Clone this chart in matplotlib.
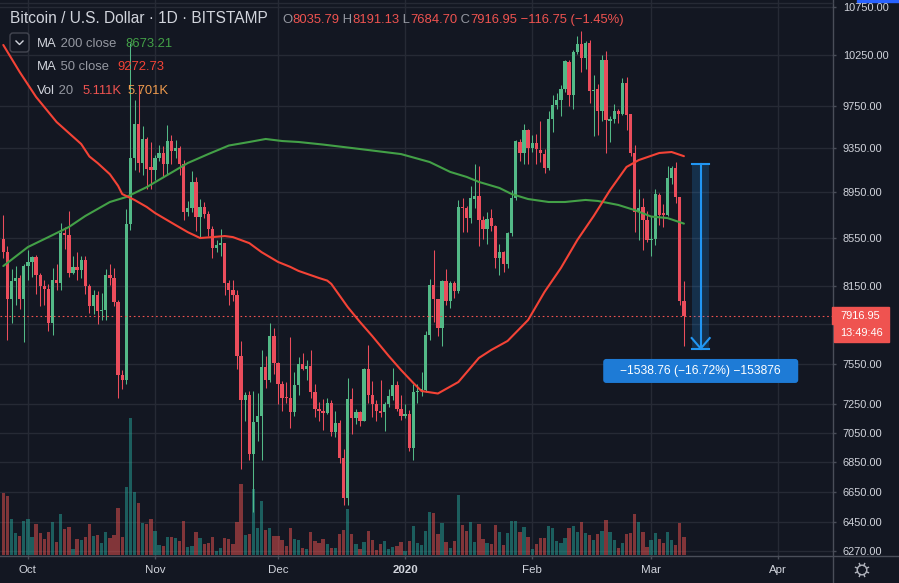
import numpy as np
import pandas as pd
import matplotlib
matplotlib.use("Agg")
import matplotlib.pyplot as plt
from matplotlib.patches import Rectangle, FancyBboxPatch, Circle
from matplotlib.lines import Line2D
from matplotlib.transforms import IdentityTransform
import matplotlib.ticker as mticker

plt.rcParams['font.family'] = ['Liberation Sans', 'DejaVu Sans']

# ---------------- data (BTC/USD daily, Bitstamp) ----------------
start_date = "2019-09-25"

opens = [8540, 8432, 8050, 8190, 8215, 8045,
         8320, 8350, 8390, 8240, 8150, 8130, 7860, 8200, 8180, 8590, 8575, 8260, 8310, 8285, 8365, 8155,
         7990, 8080, 7955, 7960, 8240, 8215, 8025, 7465, 7425, 8670, 9256, 9570, 9210, 9430, 9170,
         9150, 9255, 9300, 9200, 9415, 9320, 9350, 9200, 8770, 8810, 9035, 8730, 8815, 8760, 8630,
         8466, 8490, 8505, 8178, 8120, 8080, 7607, 7282, 7320, 6903, 7125, 7165, 7524, 7430, 7758,
         7555, 7400, 7300, 7295, 7196, 7391, 7546, 7510, 7530, 7340, 7215, 7205, 7190, 7260, 7055,
         7120, 6875, 6608, 7290, 7150, 7195, 7135, 7509, 7320, 7255, 7200, 7195, 7250, 7310, 7390, 7220,
         7165, 7185, 6943, 7340, 7350, 7355, 7766, 8160, 8050, 7820, 8190, 8030, 8180, 8110, 8820,
         8805, 8720, 8890, 8910, 8700, 8630, 8720, 8650, 8380, 8430, 8335, 8596, 8900, 9400, 9300, 9515,
         9345, 9390, 9330, 9290, 9165, 9620, 9755, 9805, 9910, 10180, 9850, 10281, 10363, 10225, 10370,
         9890, 9910, 9700, 10200, 9600, 9620, 9700, 9665, 9970, 9665, 9300, 8774, 8820, 8700,
         8530, 8540, 8920, 8760, 8750, 9075, 9165, 8905, 8035.79]

highs = [8750, 8480, 8290, 8320, 8240, 8330,
         8450, 8400, 8410, 8260, 8200, 8170, 8300, 8330, 8680, 8640, 8780, 8400, 8430, 8400, 8400, 8170,
         8120, 8115, 8100, 8290, 8330, 8300, 8040, 7500, 8800, 10370, 9800, 9950, 9550, 9450, 9400,
         9280, 9380, 9370, 9560, 9470, 9420, 9370, 9240, 8870, 9140, 9080, 8890, 8860, 8780, 8650,
         8530, 8630, 8510, 8200, 8200, 8120, 7720, 7340, 7350, 7350, 7330, 7650, 7610, 7860, 7820,
         7560, 7420, 7410, 7750, 7490, 7600, 7630, 7580, 7650, 7400, 7270, 7290, 7300, 7280, 7200,
         7140, 6940, 7440, 7370, 7220, 7200, 7520, 7690, 7420, 7280, 7430, 7270, 7360, 7520, 7420, 7320,
         7250, 7210, 7400, 7400, 7490, 7800, 8210, 8450, 8050, 8200, 8290, 8190, 8190, 8880,
         8900, 8830, 9000, 9200, 9180, 8740, 8770, 8800, 8660, 8500, 8440, 8600, 8970, 9420, 9430, 9570, 9530,
         9470, 9480, 9600, 9340, 9700, 9850, 9870, 9950, 10200, 10200, 10300, 10450, 10500, 10390,
         10400, 10050, 9960, 10250, 10290, 9650, 9760, 9720, 10020, 10030, 9670, 9380, 8980, 8900, 8780,
         8740, 8980, 8940, 8840, 9180, 9180, 9220, 8905, 8191.13]

lows = [8380, 7730, 7860, 8000, 7970, 7710,
        8200, 8230, 8090, 7990, 8000, 7800, 7770, 8120, 8120, 8460, 8230, 8250, 8200, 8220, 8090, 7940,
        7930, 7850, 7880, 7880, 8160, 7990, 7300, 7360, 7400, 8620, 9150, 9130, 9100, 8980, 8980,
        9060, 9230, 9080, 9100, 9200, 9260, 9100, 8700, 8740, 8770, 8610, 8560, 8720, 8570, 8380,
        8430, 8400, 8080, 8000, 8030, 7510, 6800, 7130, 6860, 6520, 6990, 6860, 7370, 7410, 7470,
        7250, 7200, 7260, 7080, 7170, 7320, 7500, 7430, 7300, 7160, 7130, 7070, 7180, 7030, 7020,
        6840, 6560, 6560, 7040, 7110, 7100, 7130, 7260, 7160, 7130, 7160, 7060, 7230, 7280, 7200, 7140,
        7150, 6920, 6860, 7260, 7310, 7340, 7730, 7870, 7760, 7680, 8000, 7980, 8060, 8100,
        8600, 8600, 8680, 8810, 8480, 8540, 8500, 8610, 8300, 8240, 8270, 8300, 8570, 8880, 9230, 9200, 9200,
        9310, 9200, 9220, 9120, 9150, 9500, 9720, 9650, 9880, 9750, 9720, 10260, 10080, 10110,
        9770, 9460, 9470, 9600, 9300, 9400, 9580, 9580, 9660, 9520, 9270, 8600, 8530, 8450, 8520,
        8400, 8490, 8660, 8640, 8740, 9020, 8850, 8000, 7684.70]

closes = [8432, 8050, 8190, 8215, 8045, 8320,
          8350, 8390, 8240, 8150, 8130, 7860, 8200, 8180, 8590, 8575, 8260, 8310, 8285, 8365, 8155, 7990,
          8080, 7955, 7960, 8240, 8215, 8025, 7465, 7425, 8670, 9256, 9570, 9210, 9430, 9155, 9150,
          9255, 9300, 9200, 9415, 9320, 9350, 9200, 8770, 8810, 9035, 8730, 8815, 8760, 8630, 8466,
          8490, 8505, 8178, 8120, 8080, 7607, 7282, 7320, 6903, 7125, 7165, 7524, 7430, 7758, 7555,
          7400, 7300, 7295, 7196, 7391, 7546, 7510, 7530, 7340, 7215, 7200, 7190, 7260, 7055, 7120,
          6875, 6608, 7290, 7150, 7195, 7135, 7509, 7320, 7255, 7200, 7190, 7250, 7310, 7390, 7220, 7165,
          7185, 6943, 7340, 7350, 7355, 7766, 8160, 8050, 7820, 8190, 8030, 8180, 8110, 8820,
          8805, 8720, 8900, 8910, 8700, 8630, 8713, 8650, 8380, 8430, 8335, 8596, 8900, 9410, 9300, 9515, 9345,
          9390, 9340, 9300, 9165, 9620, 9755, 9805, 9910, 10190, 9850, 10281, 10363, 10225, 10370,
          9890, 9900, 9700, 10200, 9610, 9620, 9700, 9665, 9970, 9660, 9300, 8774, 8810, 8700, 8530,
          8540, 8932, 8750, 8750, 9075, 9165, 8905, 8035, 7916.95]

# volume in thousands of BTC
volumes_k = [17.6, 16.8, 10.2, 6.2, 5.4, 9.7,
             10.2, 5.1, 8.8, 6.2, 4.5, 6.5, 9.4, 3.7, 11.6, 7.4, 8.0, 1.7, 4.5, 4.3, 5.1, 8.8,
             5.4, 5.7, 3.4, 6.5, 4.8, 5.7, 13.3, 5.1, 19.3, 38.9, 17.9, 14.8, 9.1, 8.8, 10.2,
             6.8, 2.8, 2.6, 5.1, 5.1, 4.8, 4.0, 9.7, 2.3, 2.6, 6.5, 4.8, 3.1, 3.4, 5.1,
             1.1, 2.0, 4.8, 4.5, 3.1, 9.4, 20.2, 5.7, 6.0, 18.7, 7.7, 15.3, 7.1, 7.7, 5.4,
             5.4, 4.3, 2.6, 7.7, 4.5, 4.3, 2.0, 1.7, 6.5, 4.0, 3.4, 4.5, 3.1, 2.0, 2.0,
             6.0, 7.1, 13.1, 6.0, 3.1, 1.7, 3.7, 6.8, 4.3, 1.4, 3.1, 4.0, 1.7, 2.3, 2.6, 3.7,
             1.1, 4.0, 8.2, 3.4, 2.8, 6.8, 12.2, 11.9, 6.0, 9.1, 3.7, 2.0, 4.0, 17.0,
             8.5, 6.8, 9.4, 3.7, 8.8, 4.5, 3.4, 3.1, 8.5, 6.5, 2.8, 6.2, 9.7, 9.7, 6.5, 8.0, 5.1,
             1.7, 3.1, 4.8, 4.8, 8.2, 7.7, 4.0, 3.4, 4.8, 7.7, 8.2, 6.5, 9.4, 6.2,
             5.7, 4.3, 6.0, 6.8, 9.9, 6.5, 4.3, 2.0, 3.4, 6.0, 6.2, 11.6, 9.4, 6.5, 2.3,
             4.3, 6.2, 4.5, 3.4, 6.5, 4.3, 2.8, 9.1, 5.111]

# moving averages (day index from start_date, value)
ma200_day = [0, 6, 11, 16, 20, 26, 30, 35, 40, 45, 50, 55, 60, 64, 68, 72, 78, 85, 97, 104, 109, 113,
             116, 121, 124, 128, 133, 137, 142, 145, 150, 154, 158, 162, 166]
ma200_val = [8316, 8474, 8558, 8644, 8739, 8861, 8905, 8993, 9101, 9210, 9292, 9371, 9404, 9432, 9413,
             9404, 9380, 9348, 9292, 9219, 9129, 9084, 9039, 8985, 8931, 8887, 8861, 8861, 8879, 8870,
             8835, 8790, 8734, 8721, 8673.21]

ma50_day = [0, 4, 8, 13, 19, 21, 23, 26, 28, 29, 32, 35, 37, 42, 45, 48, 51, 54, 56, 60, 63, 67, 70,
            72, 77, 79, 80, 84, 87, 90, 94, 97, 100, 102, 106, 111, 116, 119, 123, 128, 132, 136, 140,
            144, 148, 152, 155, 160, 163, 166]
ma50_val = [10353, 10079, 9833, 9592, 9385, 9270, 9210, 9108, 9004, 8931, 8879, 8817, 8765, 8661, 8600,
            8550, 8558, 8567, 8558, 8507, 8431, 8350, 8309, 8276, 8218, 8197, 8170, 7985, 7867, 7758,
            7607, 7502, 7406, 7347, 7329, 7413, 7592, 7652, 7721, 7883, 8105, 8300, 8533, 8739, 8967,
            9174, 9237, 9302, 9311, 9272.73]

price_ticks = [10750, 10250, 9750, 9350, 8950, 8550, 8150, 7850, 7550, 7250, 7050, 6850, 6650, 6450, 6270]
month_starts = ["2019-10-01", "2019-11-01", "2019-12-01", "2020-01-01", "2020-02-01", "2020-03-01", "2020-04-01"]
month_labels = ["Oct", "Nov", "Dec", "2020", "Feb", "Mar", "Apr"]

ohlc_change = -116.75
ohlc_change_pct = -1.45
ma200_last = 8673.21
ma50_last = 9272.73
vol_last_k = 5.111
vol_ma_k = 5.701
countdown = "13:49:46"

measure_top = 9201.71
measure_change = -1538.76
measure_pct = -16.72
measure_ticks = -153876

# ---------------- style ----------------
BG = '#131722'
GRID = '#262A35'
UP = '#53B987'
DOWN = '#EB4D5C'
VOL_UP = '#26A69A'
VOL_DOWN = '#EF5350'
TXT = '#D1D4DC'
TXT_DIM = '#9598A1'
AXIS_LINE = '#4A4E59'
MA200_C = '#43A047'
MA50_C = '#F44336'
VALUE_RED = '#EF5350'
ORANGE = '#EE9A4D'
BLUE = '#2196F3'

W, H = 899, 583
fig = plt.figure(figsize=(W / 100, H / 100), dpi=100)
fig.patch.set_facecolor(BG)

def fp(px):  # px -> points
    return px * 0.72

n = min(len(opens), len(highs), len(lows), len(closes), len(volumes_k))
o = np.array(opens[:n], float)
h = np.array(highs[:n], float)
l = np.array(lows[:n], float)
c = np.array(closes[:n], float)
v = np.array(volumes_k[:n], float)
days = np.arange(n)
t0 = pd.Timestamp(start_date)
month_pos = [(pd.Timestamp(m) - t0).days for m in month_starts]

rect = [0, 28 / H, 832 / W, 555 / H]
XLIM = (-0.805, 202.12)
YLIM = (6245, 10825)

ax_grid = fig.add_axes(rect)
ax_vol = fig.add_axes(rect)
ax = fig.add_axes(rect)
ax_grid.set_zorder(0); ax_vol.set_zorder(1); ax.set_zorder(2)
ax_grid.set_facecolor(BG)
ax_vol.patch.set_visible(False)
ax.patch.set_visible(False)

for a in (ax_grid, ax):
    a.set_yscale('log')
    a.set_ylim(*YLIM)
    a.set_xlim(*XLIM)
    a.yaxis.set_minor_locator(mticker.NullLocator())
    a.yaxis.set_minor_formatter(mticker.NullFormatter())
ax_vol.set_xlim(*XLIM)

# grid
ax_grid.set_xticks(month_pos)
ax_grid.set_yticks(price_ticks)
ax_grid.grid(True, color=GRID, lw=1.0)
ax_grid.tick_params(length=0, labelleft=False, labelbottom=False)
for s in ax_grid.spines.values():
    s.set_visible(False)

# volume
vcols = [VOL_UP if cc >= oo else VOL_DOWN for oo, cc in zip(o, c)]
ax_vol.bar(days, v, width=0.8, color=vcols, alpha=0.5, linewidth=0)
ax_vol.set_ylim(0, 555 / 3.52)
ax_vol.axis('off')

# candles
cols = [UP if cc >= oo else DOWN for oo, cc in zip(o, c)]
lo_b = np.minimum(o, c)
hi_b = np.maximum(np.maximum(o, c), lo_b * 1.0012)
ax.vlines(days, l, h, colors=cols, lw=0.75, zorder=3)
ax.bar(days, hi_b - lo_b, bottom=lo_b, width=0.8, color=cols, linewidth=0, zorder=4)

# moving averages
ax.plot(ma200_day, ma200_val, color=MA200_C, lw=1.5, zorder=5, solid_capstyle='round')
ax.plot(ma50_day, ma50_val, color=MA50_C, lw=1.5, zorder=5, solid_capstyle='round')

# last price dotted line
ax.axhline(c[-1], color=VALUE_RED, lw=0.8, linestyle=(0, (1.5, 2.5)), zorder=6)

ax.set_xlim(*XLIM); ax.set_ylim(*YLIM)

# axes ticks
ax.yaxis.tick_right()
ax.set_yticks(price_ticks)
ax.set_yticklabels(['' if p == 7850 else f"{p:.2f}" for p in price_ticks])
ax.tick_params(axis='y', which='major', length=3, width=1, color=AXIS_LINE, pad=4.8,
               labelsize=fp(11), labelcolor=TXT)
ax.set_xticks(month_pos)
ax.set_xticklabels(month_labels)
ax.tick_params(axis='x', which='major', length=3, width=1, color=AXIS_LINE, pad=4.3,
               labelsize=fp(11.5), labelcolor=TXT)
for lab in ax.get_xticklabels():
    if lab.get_text() == '2020':
        lab.set_fontweight('bold')
for s in ax.spines.values():
    s.set_visible(False)

# separator lines
fig.add_artist(Line2D([832.5 / W, 832.5 / W], [0, 1], color=AXIS_LINE, lw=1, transform=fig.transFigure))
fig.add_artist(Line2D([0, 1], [1 - 555.5 / H] * 2, color=AXIS_LINE, lw=1, transform=fig.transFigure))
fig.add_artist(Line2D([0, 832 / W], [1 - 2.5 / H] * 2, color=GRID, lw=1, transform=fig.transFigure))
fig.add_artist(Rectangle((857, H - 2), 42, 2, color='#2962FF', transform=IdentityTransform()))

# last price labels on axis
yd = ax.transData.transform((0, c[-1]))[1]
fig.add_artist(Rectangle((832, yd - 8.5), 57, 17, color=VALUE_RED, transform=IdentityTransform(), zorder=10))
fig.add_artist(Rectangle((834, yd - 26.5), 55, 18, color=VALUE_RED, transform=IdentityTransform(), zorder=10))
fig.text(860.5, yd, f"{c[-1]:.2f}", color='white', fontsize=fp(11), ha='center', va='center',
         transform=IdentityTransform(), zorder=11)
fig.text(861.5, yd - 17.5, countdown, color='white', fontsize=fp(11), ha='center', va='center',
         transform=IdentityTransform(), zorder=11)

# gear icon bottom right
gx, gy = 862, H - 570
fig.add_artist(Circle((gx, gy), 4.8, fill=False, ec='#B2B5BE', lw=1, transform=IdentityTransform()))
for ang in np.arange(0, 360, 45):
    a_ = np.deg2rad(ang + 22.5)
    fig.add_artist(Line2D([gx + 4.8 * np.cos(a_), gx + 7 * np.cos(a_)],
                          [gy + 4.8 * np.sin(a_), gy + 7 * np.sin(a_)],
                          color='#B2B5BE', lw=1, transform=IdentityTransform()))

# measurement tool
m_left, m_mid, m_right = 168.0, 170.1, 172.2
m_bot = measure_top + measure_change
ax.add_patch(Rectangle((m_left, m_bot), m_right - m_left, measure_top - m_bot,
                       color=BLUE, alpha=0.2, linewidth=0, zorder=6))
ax.plot([m_mid, m_mid], [measure_top, m_bot], color=BLUE, lw=1.5, zorder=7)
ax.plot([m_left, m_right], [measure_top, measure_top], color=BLUE, lw=1.5, zorder=7)
ax.plot([m_left, m_right], [m_bot, m_bot], color=BLUE, lw=1.5, zorder=7)
bx, by = ax.transData.transform((m_mid, m_bot))
fig.add_artist(Line2D([bx - 9, bx, bx + 9], [by + 10.5, by, by + 10.5], color=BLUE, lw=1.5,
                      transform=IdentityTransform(), zorder=8))
lbl_cy = by - 22.4
fig.add_artist(FancyBboxPatch((bx - 97.5, lbl_cy - 12), 195, 24, boxstyle='round,pad=0,rounding_size=3',
                              fc='#1E7BD6', ec='none', transform=IdentityTransform(), zorder=9))
fig.text(bx, lbl_cy, f"\u2212{abs(measure_change):.2f} (\u2212{abs(measure_pct):.2f}%) \u2212{abs(measure_ticks)}",
         color='white', fontsize=fp(12), ha='center', va='center', transform=IdentityTransform(), zorder=10)

# legend texts
renderer = fig.canvas.get_renderer()

def seg_text(x, y_base, segments, size_px, weight='normal'):
    for s, col in segments:
        t = fig.text(x, H - y_base, s, color=col, fontsize=fp(size_px), va='baseline', ha='left',
                     transform=IdentityTransform(), fontweight=weight, zorder=12)
        x = t.get_window_extent(renderer).x1
    return x

seg_text(10, 22.7, [("Bitcoin / U.S. Dollar \u00b7 1D \u00b7 BITSTAMP", TXT)], 15.5)
chg = f"\u2212{abs(ohlc_change):.2f} (\u2212{abs(ohlc_change_pct):.2f}%)"
seg_text(282, 22.7, [("O", TXT_DIM), (f"{o[-1]:.2f}", VALUE_RED), (" H", TXT_DIM), (f"{h[-1]:.2f}", VALUE_RED),
                     (" L", TXT_DIM), (f"{l[-1]:.2f}", VALUE_RED), (" C", TXT_DIM), (f"{c[-1]:.2f}", VALUE_RED),
                     (" " + chg, VALUE_RED)], 13)

seg_text(37.3, 46.7, [("MA", TXT), (" 200 close", TXT_DIM)], 13)
seg_text(125, 46.7, [(f"{ma200_last:.2f}", MA200_C)], 13)
seg_text(37.3, 70, [("MA", TXT), (" 50 close", TXT_DIM)], 13)
seg_text(117.7, 70, [(f"{ma50_last:.2f}", MA50_C)], 13)
seg_text(37.3, 94, [("Vol", TXT), (" 20", TXT_DIM)], 13)
seg_text(82.3, 94, [(f"{vol_last_k:.3f}K", VALUE_RED)], 13)
seg_text(127.7, 94, [(f"{vol_ma_k:.3f}K", ORANGE)], 13)

# collapse chevron box
fig.add_artist(FancyBboxPatch((10, H - 52), 19, 19, boxstyle='round,pad=0,rounding_size=3',
                              fc=BG, ec='#434651', lw=1, transform=IdentityTransform(), zorder=11))
fig.add_artist(Line2D([16, 19.5, 23], [H - 41, H - 44.5, H - 41], color=TXT, lw=1,
                      transform=IdentityTransform(), zorder=12))

fig.savefig("out.png", dpi=100, facecolor=BG)
